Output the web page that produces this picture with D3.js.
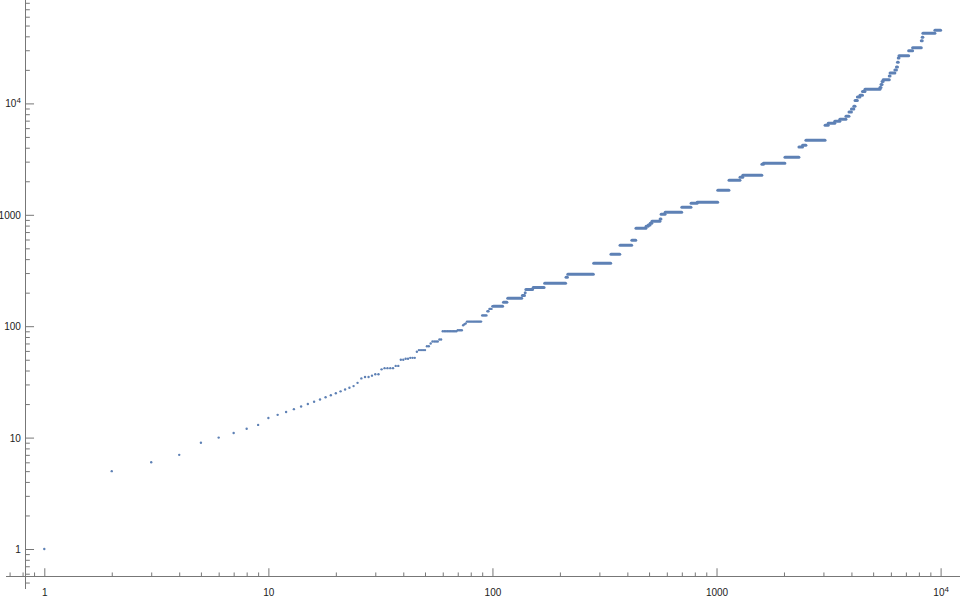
<!DOCTYPE html>
<html><head><meta charset="utf-8">
<script src="https://cdn.jsdelivr.net/npm/d3@7"></script>
<style>body{margin:0;background:#fff}svg{display:block}</style>
</head><body><svg id="c" width="960" height="598"></svg>
<script>
// a(n) for n = 1..100 (individual points)
const firstValues = [1,5,6,7,9,10,11,12,13,15,
  16,17,18,19,20,21,22,23,24,25,
  26,27,28,29,31,34,35,35,36,37,
  37,41,42,42,42,42,44,44,50,50,
  51,51,52,52,52,59,61,61,61,61,
  66,66,70,73,73,73,73,76,76,90,
  90,90,90,90,90,90,90,90,90,92,
  92,92,92,102,104,106,110,110,110,110,
  110,110,110,110,110,110,110,110,110,125,
  125,125,125,125,136,136,143,143,143,151];
// plateaus for n > 100: from runStart to runEnd the value is runValue
const runStart = [101,112,117,136,140,141,152,171,213,217,283,338,371,419,437,485,496,506,515,560,
  566,590,700,770,820,1013,1137,1273,1310,1594,1620,2020,2332,2421,2506,3051,3151,3371,3551,3781,
  3901,4001,4101,4151,4251,4366,4481,4598,5363,5421,5481,5541,5901,5951,6251,6351,6421,6471,6521,7201,
  7501,8201,8281,8335,9431];
const runEnd = [111,116,135,139,140,151,170,212,216,282,337,370,418,436,484,495,505,514,559,565,
  589,699,769,819,1012,1136,1272,1309,1593,1619,2019,2331,2420,2505,3050,3150,3370,3550,3780,3900,
  4000,4100,4150,4250,4365,4480,4597,5362,5420,5480,5540,5900,5950,6250,6350,6420,6470,6520,7200,7500,
  8200,8280,8334,9430,10000];
const runValue = [151,164,178,189,200,214,223,243,275,292,367,442,532,590,757,790,810,840,874,915,
  1010,1053,1167,1268,1295,1660,2040,2171,2262,2840,2900,3283,4060,4220,4665,6360,6630,6910,7200,7660,
  8380,8900,9420,10600,11400,11850,12800,13400,13900,14800,15700,16320,17600,18750,19900,21200,23400,25550,26800,29720,
  31620,36560,39180,42600,45300];

const xMajorTicks = [1,10,100,1000,10000];
const xTickLabels = ["1","10","100","1000","10^4"];
const xMinorTicks = [0.7,0.8,0.9,2,3,4,5,6,7,8,9,20,30,40,50,60,70,80,90,
  200,300,400,500,600,700,800,900,2000,3000,4000,5000,6000,7000,8000,9000];
const yMajorTicks = [1,10,100,1000,10000];
const yTickLabels = ["1","10","100","1000","10^4"];
const yMinorTicks = [0.5,0.6,0.7,0.8,0.9,2,3,4,5,6,7,8,9,20,30,40,50,60,70,80,90,
  200,300,400,500,600,700,800,900,2000,3000,4000,5000,6000,7000,8000,9000,
  20000,30000,40000,50000,60000,70000,80000];

const xCross = 0.823, yCross = 0.561;          // axes origin
const xAxisExtent = [0.675, 12200], yAxisExtent = [0.437, 85000];

const svg = d3.select("#c");
const x = d3.scaleLog().domain([1, 1e4]).range([44.3, 940.6]);
const y = d3.scaleLog().domain([1, 1e4]).range([549, 103.4]);

const axisColor = "#777", labelColor = "#222", dotColor = "#5E81B5";
const font = "'Liberation Sans', Arial, sans-serif";

function fmtLabel(sel, labels, ticks) {
  sel.each(function(d) {
    const t = d3.select(this);
    const lab = labels[ticks.indexOf(d)];
    t.text(null);
    if (lab.includes("^")) {
      const [b, e] = lab.split("^");
      t.append("tspan").text(b);
      t.append("tspan").attr("dy", "-0.5em").attr("font-size", "8px").text(e);
    } else t.text(lab);
  });
}

// X axis
const gx = svg.append("g").attr("transform", `translate(0,${y(yCross)})`);
gx.append("line").attr("x1", x(xAxisExtent[0])).attr("x2", x(xAxisExtent[1]))
  .attr("stroke", axisColor).attr("shape-rendering", "crispEdges");
const gxMin = gx.append("g").call(d3.axisTop(x).tickValues(xMinorTicks).tickSize(4.5).tickFormat(""));
const gxMaj = gx.append("g").call(d3.axisTop(x).tickValues(xMajorTicks).tickSize(8.7).tickFormat(d => d));
[gxMin, gxMaj].forEach(g => {
  g.select(".domain").remove();
  g.selectAll("line").attr("stroke", axisColor);
});
gxMaj.selectAll("text").attr("y", 12).attr("dy", "0.71em")
  .attr("fill", labelColor).attr("font-family", font).attr("font-size", "10px")
  .call(fmtLabel, xTickLabels, xMajorTicks);

// Y axis
const gy = svg.append("g").attr("transform", `translate(${x(xCross)},0)`);
gy.append("line").attr("y1", y(yAxisExtent[0])).attr("y2", y(yAxisExtent[1]))
  .attr("stroke", axisColor).attr("shape-rendering", "crispEdges");
const gyMin = gy.append("g").call(d3.axisRight(y).tickValues(yMinorTicks).tickSize(4.5).tickFormat(""));
const gyMaj = gy.append("g").call(d3.axisRight(y).tickValues(yMajorTicks).tickSize(8.7).tickFormat(d => d));
[gyMin, gyMaj].forEach(g => {
  g.select(".domain").remove();
  g.selectAll("line").attr("stroke", axisColor);
});
gyMaj.selectAll("text").attr("x", -4.5).attr("dy", "0.34em").attr("text-anchor", "end")
  .attr("fill", labelColor).attr("font-family", font).attr("font-size", "10px")
  .call(fmtLabel, yTickLabels, yMajorTicks);

// Data: individual points
svg.append("g").selectAll("circle").data(firstValues).join("circle")
  .attr("cx", (d, i) => x(i + 1)).attr("cy", d => y(d)).attr("r", 1.2).attr("fill", dotColor);

// Data: plateaus (dense points rendered as a thick run)
svg.append("g").selectAll("line").data(runValue).join("line")
  .attr("x1", (d, i) => x(runStart[i])).attr("x2", (d, i) => x(runEnd[i]))
  .attr("y1", d => y(d)).attr("y2", d => y(d))
  .attr("stroke", dotColor).attr("stroke-width", 3).attr("stroke-linecap", "round");
</script></body></html>
